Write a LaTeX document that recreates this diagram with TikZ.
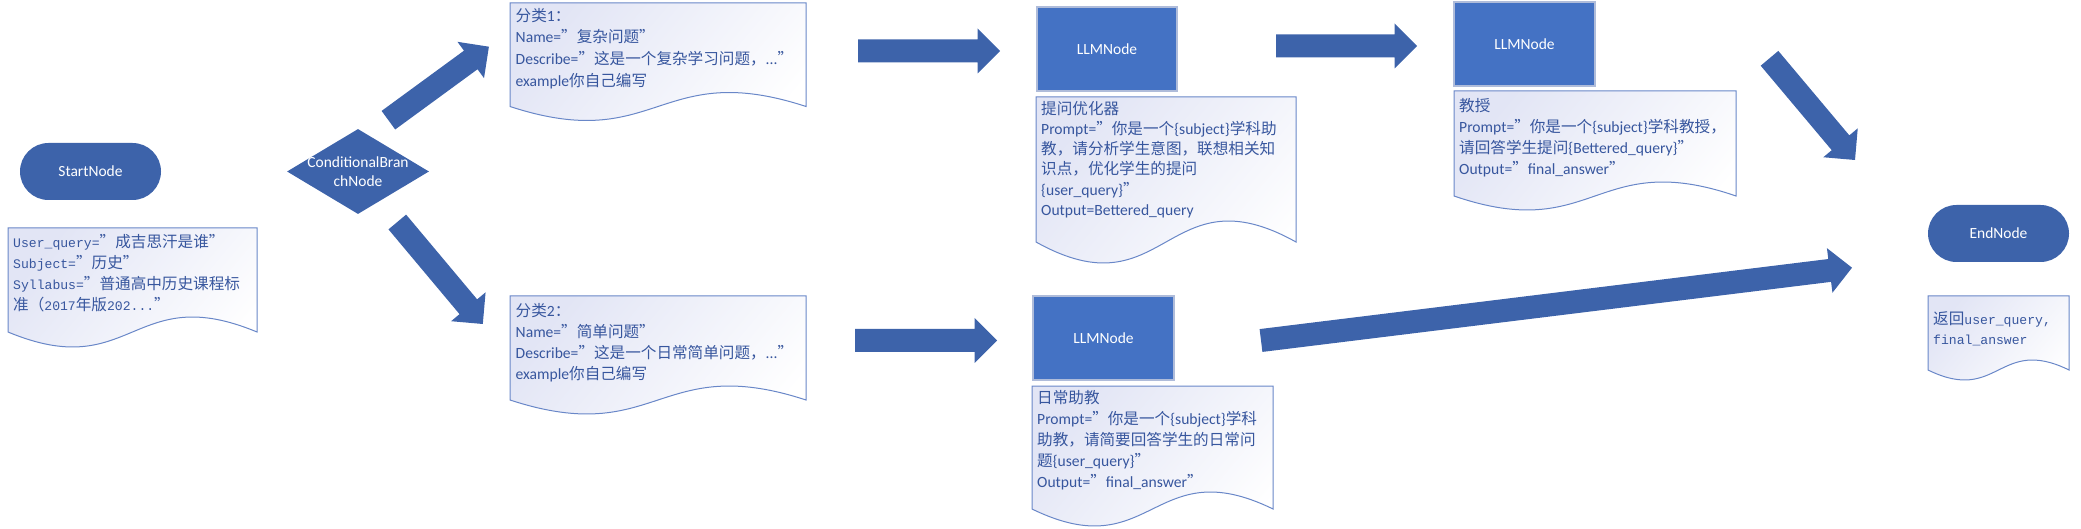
\documentclass[tikz,border=0pt]{standalone}
\usepackage{fontspec}
\setmainfont{Carlito}
\newfontfamily\cjk[RawFeature=+fwid]{Noto Sans CJK SC}
\newfontfamily\mono[Scale=0.84]{Liberation Mono}
\usetikzlibrary{shapes.geometric,calc}

\definecolor{flowblue}{RGB}{61,99,170}
\definecolor{llmblue}{RGB}{68,114,196}
\definecolor{llmedge}{RGB}{175,188,218}
\definecolor{docedge}{RGB}{105,135,200}
\definecolor{docfill}{RGB}{226,229,245}
\definecolor{doctext}{RGB}{55,86,158}

\newcommand\zh[1]{{\cjk#1}}
% wavy document shape: left, top, right, bottom, wave
\newcommand\docshape[5]{%
  \path[draw=docedge, line width=1pt, top color=docfill, bottom color=white, shading angle=50]
    (#1,#2) -- (#3,#2) -- (#3,#4)
    .. controls ({(#1+#3)/2},{#4-3.46*#5}) and ({(#1+#3)/2},{#4+3.46*#5}) .. (#1,#4) -- cycle;}
% block arrow from tail to tip
\newcommand\bigarrow[2]{%
  \coordinate (head) at ($(#2)!22.5pt!(#1)$);
  \fill[flowblue] ($(#1)!11.5pt!90:(#2)$) -- ($(head)!11.5pt!90:(#2)$)
    -- ($(head)!22.5pt!90:(#2)$) -- (#2) -- ($(head)!22.5pt!-90:(#2)$)
    -- ($(head)!11.5pt!-90:(#2)$) -- ($(#1)!11.5pt!-90:(#2)$) -- cycle;}

\tikzset{
  pill/.style={fill=flowblue, rounded corners=28.5pt, minimum width=141pt,
    minimum height=57pt, text=white, font=\fontsize{15.5}{19}\selectfont},
  condbox/.style={diamond, fill=flowblue, minimum width=142pt,
    minimum height=85pt, inner sep=0pt},
  llmbox/.style={fill=llmblue, draw=llmedge, line width=1.2pt, text=white,
    minimum width=141pt, minimum height=84pt, font=\fontsize{15.5}{19}\selectfont},
  info/.style={anchor=north west, inner sep=0pt, align=left, text=doctext,
    font=\fontsize{15.6}{21}\selectfont}
}

\begin{document}
\begin{tikzpicture}[x=1pt, y=-1pt]
  \useasboundingbox (0,0) rectangle (2081,529);

  \node[pill] (start) at (90.5,171.5) {StartNode};
  \node[condbox, label={[text=white, align=center,
      font=\fontsize{15.5}{19}\selectfont]center:ConditionalBran\\chNode}]
    (branch) at (358,171.5) {};
  \node[llmbox, minimum width=140pt] (llmA) at (1107,49) {LLMNode};
  \node[llmbox] (llmB) at (1524.5,44) {LLMNode};
  \node[llmbox] (llmC) at (1103.5,338) {LLMNode};
  \node[pill] (end) at (1998.5,233.5) {EndNode};

  % documents
  \docshape{8}{228}{257}{332}{15}
  \node[info] (startinfo) at (13,234)
    {{\mono User\_query=}\zh{”成吉思汗是谁”}\\
     {\mono Subject=}\zh{”历史”}\\
     {\mono Syllabus=}\zh{”普通高中历史课程标}\\
     \zh{准（}{\mono 2017}\zh{年版}{\mono 202...}\zh{”}};

  \docshape{510}{3}{806}{106.5}{14}
  \node[info, font=\fontsize{15.6}{21.7}\selectfont] (hardinfo) at (515.5,8)
    {\zh{分类}1\zh{：}\\
     Name=\zh{”复杂问题”}\\
     Describe=\zh{”这是一个复杂学习问题，}...\zh{”}\\
     example\zh{你自己编写}};

  \docshape{510}{296}{806}{400}{14}
  \node[info] (easyinfo) at (515.5,303)
    {\zh{分类}2\zh{：}\\
     Name=\zh{”简单问题”}\\
     Describe=\zh{”这是一个日常简单问题，}...\zh{”}\\
     example\zh{你自己编写}};

  \docshape{1036}{97}{1296}{242}{21}
  \node[info, font=\fontsize{15.6}{20.2}\selectfont] (llmAinfo) at (1041,101)
    {\zh{提问优化器}\\
     Prompt=\zh{”你是一个}\{subject\}\zh{学科助}\\
     \zh{教，请分析学生意图，联想相关知}\\
     \zh{识点，优化学生的提问}\\
     \{user\_query\}\zh{”}\\
     Output=Bettered\_query};

  \docshape{1454}{91}{1736}{196}{14}
  \node[info] (llmBinfo) at (1459,98)
    {\zh{教授}\\
     Prompt=\zh{”你是一个}\{subject\}\zh{学科教授，}\\
     \zh{请回答学生提问}\{Bettered\_query\}\zh{”}\\
     Output=\zh{”}final\_answer\zh{”}};

  \docshape{1032}{386}{1273}{509}{17}
  \node[info] (llmCinfo) at (1037,390)
    {\zh{日常助教}\\
     Prompt=\zh{”你是一个}\{subject\}\zh{学科}\\
     \zh{助教，请简要回答学生的日常问}\\
     \zh{题}\{user\_query\}\zh{”}\\
     Output=\zh{”}final\_answer\zh{”}};

  \docshape{1928}{296}{2069}{370}{10}
  \node[info, font=\fontsize{15.6}{20}\selectfont] (endinfo) at (1933,311)
    {\zh{返回}{\mono user\_query,}\\
     {\mono final\_answer}};

  % arrows
  \coordinate (upS) at (388.4,120.2);  \coordinate (upE) at (488.9,46.7);
  \coordinate (downS) at (397.3,222);  \coordinate (downE) at (482.8,324);
  \coordinate (hardS) at (858,51);     \coordinate (hardE) at (1000,51);
  \coordinate (easyS) at (855,340.5);  \coordinate (easyE) at (997,340.5);
  \coordinate (profS) at (1276,46);    \coordinate (profE) at (1417,46);
  \coordinate (toEndS) at (1769.5,58.3); \coordinate (toEndE) at (1855,160);
  \coordinate (longS) at (1261,340.5); \coordinate (longE) at (1852,267.7);
  \foreach \s/\e in {upS/upE, downS/downE, hardS/hardE, easyS/easyE,
      profS/profE, toEndS/toEndE, longS/longE}
    {\bigarrow{\s}{\e}}
\end{tikzpicture}
\end{document}
